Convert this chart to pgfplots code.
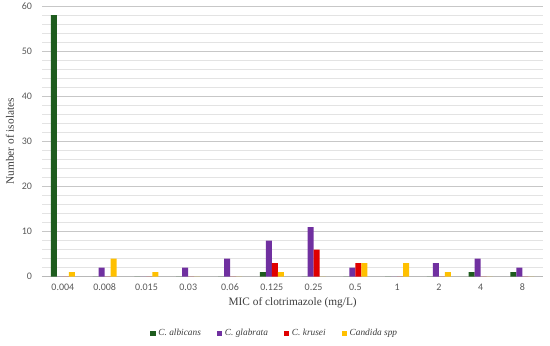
\documentclass[border=0pt]{standalone}
\usepackage{pgfplots}
\pgfplotsset{compat=1.18}
\usepackage{fontspec}
\setmainfont{Liberation Serif}
\newfontfamily\tickfont{Carlito}
\definecolor{cgreen}{HTML}{1E5C1E}
\definecolor{cpurple}{HTML}{7030A0}
\definecolor{cred}{HTML}{E00000}
\definecolor{cyellow}{HTML}{FFC000}
\definecolor{tickgray}{HTML}{595959}
\begin{document}
\begin{tikzpicture}
\begin{axis}[
  at={(0,0)}, anchor=south west,
  scale only axis,
  width=376pt, height=203pt,
  ybar=0pt, bar width=4.5pt,
  xmin=-0.5, xmax=11.5,
  ymin=0, ymax=60,
  xtick={0,...,11},
  xticklabels={0.004,0.008,0.015,0.03,0.06,0.125,0.25,0.5,1,2,4,8},
  ytick={0,10,...,60},
  minor y tick num=4,
  ymajorgrids, yminorgrids,
  major grid style={draw=black!22, line width=0.7pt},
  minor grid style={draw=black!11, line width=0.5pt},
  axis x line*=bottom,
  axis y line*=left,
  x axis line style={draw=black!28, line width=0.7pt, -},
  y axis line style={draw=none},
  major tick length=0pt, minor tick length=0pt,
  tick style={draw=none},
  ticklabel style={font=\tickfont\fontsize{7.5pt}{9pt}\selectfont, text=tickgray},
  /pgf/number format/assume math mode=true,
  yticklabel style={xshift=-4pt},
  xticklabel style={yshift=-2pt},
  xlabel={MIC of clotrimazole (mg/L)},
  ylabel={Number of isolates},
  label style={font=\fontsize{8.5pt}{10pt}\selectfont, text=tickgray!70!black},
  xlabel style={yshift=2pt},
  ylabel style={yshift=-1pt},
  legend columns=4,
  legend style={draw=none, at={(0.465,-0.21)}, anchor=center,
    font=\itshape\fontsize{7pt}{8pt}\selectfont, text=tickgray!70!black,
    /tikz/every even column/.append style={column sep=10pt}},
  legend image code/.code={\fill[#1] (0pt,-2pt) rectangle (4pt,2pt);},
  every axis plot/.append style={draw=none},
]
\addplot[fill=cgreen] coordinates {(0,58) (1,0) (2,0) (3,0) (4,0) (5,1) (6,0) (7,0) (8,0) (9,0) (10,1) (11,1)};
\addplot[fill=cpurple] coordinates {(0,0) (1,2) (2,0) (3,2) (4,4) (5,8) (6,11) (7,2) (8,0) (9,3) (10,4) (11,2)};
\addplot[fill=cred] coordinates {(0,0) (1,0) (2,0) (3,0) (4,0) (5,3) (6,6) (7,3) (8,0) (9,0) (10,0) (11,0)};
\addplot[fill=cyellow] coordinates {(0,1) (1,4) (2,1) (3,0) (4,0) (5,1) (6,0) (7,3) (8,3) (9,1) (10,0) (11,0)};
\legend{C. albicans, C. glabrata, C. krusei, Candida spp}
\end{axis}
\pgfresetboundingbox
\path (-31.5pt,-51.75pt) rectangle (381.0pt,207.5pt);
\end{tikzpicture}
\end{document}
